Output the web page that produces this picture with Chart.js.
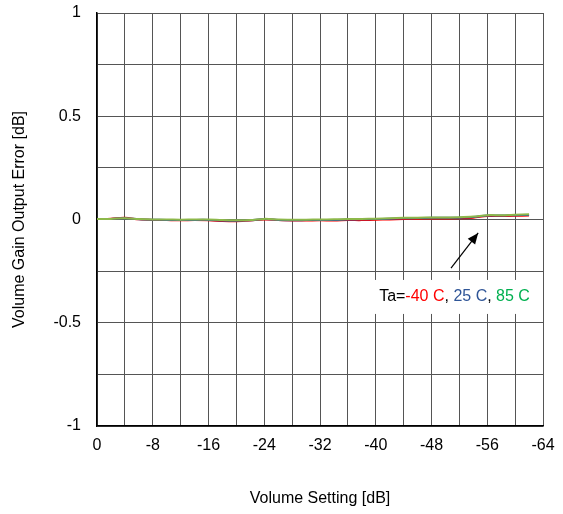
<!DOCTYPE html>
<html><head><meta charset="utf-8">
<script src="https://cdn.jsdelivr.net/npm/chart.js@4/dist/chart.umd.min.js"></script>
<style>html,body{margin:0;padding:0;background:#fff}#wrap{width:563px;height:514px}</style>
</head><body><div id="wrap"><canvas id="c" width="563" height="514"></canvas></div>
<script>
const volumeSetting = [0,-2,-4,-6,-8,-10,-12,-14,-16,-18,-20,-22,-24,-26,-28,-30,-32,-34,-36,-38,-40,-42,-44,-46,-48,-50,-52,-54,-56,-58,-60,-62];
const errM40 = [0.002,0.004,0.008,0.001,-0.002,-0.003,-0.004,-0.003,-0.004,-0.007,-0.008,-0.005,0.0,-0.003,-0.005,-0.005,-0.004,-0.005,-0.003,-0.003,-0.001,0.0,0.002,0.004,0.005,0.005,0.006,0.009,0.017,0.017,0.018,0.019];
const err25 = [0.003,0.003,0.006,0.001,-0.001,-0.002,-0.003,-0.002,-0.002,-0.005,-0.006,-0.004,0.002,-0.002,-0.004,-0.003,-0.002,-0.002,0.0,0.001,0.002,0.004,0.006,0.007,0.008,0.008,0.009,0.012,0.019,0.019,0.021,0.022];
const err85 = [0.003,0.003,0.006,0.002,0.0,0.0,-0.001,0.0,0.0,-0.003,-0.004,-0.003,0.003,0.0,-0.001,-0.001,0.0,0.001,0.002,0.003,0.004,0.006,0.008,0.009,0.01,0.01,0.011,0.014,0.021,0.021,0.023,0.025];
const xTicks = [0,-8,-16,-24,-32,-40,-48,-56,-64];
const yTicks = [1,0.5,0,-0.5,-1];

const FONT = "'Liberation Sans', Arial, sans-serif";
const FS = 16;
const toPts = ys => volumeSetting.map((x,i)=>({x, y: ys[i]}));

const annot = {
  id: 'annot',
  afterDatasetsDraw(chart) {
    const {ctx, scales:{x,y}} = chart;
    const lx = x.getPixelForValue(-51.3), ly = y.getPixelForValue(-0.375);
    ctx.save();
    ctx.font = FS + "px " + FONT;
    const parts = [["Ta=","#000"],["-40 C","#ff0000"],[", ","#000"],["25 C","#2f5597"],[", ","#000"],["85 C","#00b050"]];
    let tw = 0; parts.forEach(p=>tw+=ctx.measureText(p[0]).width);
    ctx.fillStyle = "#fff";
    ctx.fillRect(lx - tw/2 - 8, ly - 17, tw + 16, 34);
    let cx = lx - tw/2;
    ctx.textBaseline = "middle";
    parts.forEach(p=>{ctx.fillStyle=p[1]; ctx.fillText(p[0],cx,ly); cx+=ctx.measureText(p[0]).width;});
    const x1 = x.getPixelForValue(-50.8), y1 = y.getPixelForValue(-0.235);
    const x2 = x.getPixelForValue(-54.7), y2 = y.getPixelForValue(-0.065);
    ctx.strokeStyle = "#000"; ctx.lineWidth = 1.2;
    ctx.beginPath(); ctx.moveTo(x1,y1); ctx.lineTo(x2,y2); ctx.stroke();
    const ang = Math.atan2(y2-y1, x2-x1), L = 12, W = 0.4;
    ctx.fillStyle = "#000";
    ctx.beginPath(); ctx.moveTo(x2,y2);
    ctx.lineTo(x2 - L*Math.cos(ang-W), y2 - L*Math.sin(ang-W));
    ctx.lineTo(x2 - L*Math.cos(ang+W), y2 - L*Math.sin(ang+W));
    ctx.closePath(); ctx.fill();
    ctx.restore();
  }
};

new Chart(document.getElementById('c'), {
  type: 'line',
  data: { datasets: [
    {label:'-40 C', data: toPts(errM40), borderColor:'#ff0000', borderWidth:2, pointRadius:0, tension:0.3, order:3},
    {label:'25 C', data: toPts(err25), borderColor:'#2f5597', borderWidth:2, pointRadius:0, tension:0.3, order:2},
    {label:'85 C', data: toPts(err85), borderColor:'#8db84a', borderWidth:2, pointRadius:0, tension:0.3, order:1}
  ]},
  options: {
    responsive:false, animation:false, devicePixelRatio:1,
    layout:{padding:{top:13,right:20,left:0,bottom:0}},
    plugins:{legend:{display:false}, tooltip:{enabled:false}},
    scales:{
      x:{type:'linear', reverse:true, min:-64, max:0,
        afterFit(s){s.height=88; s.paddingLeft=0; s.paddingRight=0;},
        afterBuildTicks(s){s.ticks=[];for(let v=0;v>=-64;v-=4)s.ticks.push({value:v});},
        ticks:{font:{family:FONT,size:FS},color:'#000',padding:10,maxRotation:0,autoSkip:false,
          callback:v=>xTicks.includes(v)?String(v):''},
        grid:{color:'#555',lineWidth:1,drawTicks:false},
        border:{color:'#000',width:1.5},
        title:{display:true,text:'Volume Setting [dB]',font:{family:FONT,size:FS},color:'#000',padding:{top:0,bottom:6}}
      },
      y:{type:'linear', min:-1, max:1,
        afterFit(s){s.width=97; s.paddingTop=0; s.paddingBottom=0;},
        afterBuildTicks(s){s.ticks=[];for(let v=-1;v<=1.0001;v+=0.25)s.ticks.push({value:Math.round(v*100)/100});},
        ticks:{font:{family:FONT,size:FS},color:'#000',padding:16,autoSkip:false,
          callback:v=>yTicks.includes(v)?String(v):''},
        grid:{color:'#555',lineWidth:1,drawTicks:false},
        border:{color:'#000',width:1.5},
        title:{display:true,text:'Volume Gain Output Error [dB]',font:{family:FONT,size:FS},color:'#000',padding:{top:10,bottom:0}}
      }
    }
  },
  plugins:[annot]
});
</script></body></html>
